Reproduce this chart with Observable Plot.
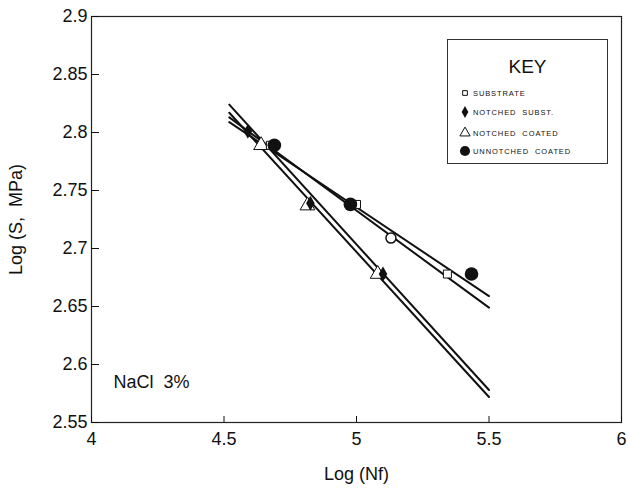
<!DOCTYPE html>
<html>
<head>
<meta charset="utf-8">
<script src="https://cdn.jsdelivr.net/npm/d3@7"></script>
<script src="https://cdn.jsdelivr.net/npm/@observablehq/plot@0.6"></script>
<style>
  html, body { margin: 0; padding: 0; background: #fff; }
  #wrap { position: relative; width: 629px; height: 489px; }
  svg text { white-space: pre; }
  #key { position: absolute; left: 447px; top: 39px; width: 159px; height: 123px;
         border: 1px solid #333; background: #fff; font-family: "Liberation Sans", Arial, sans-serif; color: #111; }
  #key .title { position: absolute; left: 0; width: 100%; top: 17px; text-align: center; font-size: 19px; line-height: 20px; }
  #key .row { position: absolute; left: 10px; height: 14px; display: flex; align-items: center; }
  #key .row svg { width: 14px; height: 14px; overflow: visible; }
  #key .row span { font-size: 7.5px; letter-spacing: 0.9px; white-space: pre; margin-left: 1px; }
</style>
</head>
<body>
<div id="wrap"></div>
<script>
// ---- data ----
const xTicks = [4, 4.5, 5, 5.5, 6];
const yTicks = [2.55, 2.6, 2.65, 2.7, 2.75, 2.8, 2.85, 2.9];

const substrateX = [4.675, 5.0, 5.343];
const substrateY = [2.789, 2.738, 2.678];
const notchedSubstX = [4.59, 4.826, 5.10];
const notchedSubstY = [2.801, 2.739, 2.678];
const notchedCoatedX = [4.64, 4.815, 5.08];
const notchedCoatedY = [2.789, 2.737, 2.678];
const unnotchedCoatedX = [4.69, 4.977, 5.434];
const unnotchedCoatedY = [2.789, 2.738, 2.678];
const openCircleX = [5.13];
const openCircleY = [2.709];

const fitX = [4.52, 5.5];
const fitA = [2.824, 2.578];
const fitB = [2.817, 2.572];
const fitC = [2.813, 2.649];
const fitD = [2.809, 2.659];

const keyLabels = ["SUBSTRATE", "NOTCHED  SUBST.", "NOTCHED  COATED", "UNNOTCHED  COATED"];

// ---- build ----
const pts = (xs, ys) => xs.map((x, i) => ({x, y: ys[i]}));
const fits = [fitA, fitB, fitC, fitD];

const plot = Plot.plot({
  width: 629,
  height: 489,
  marginLeft: 91,
  marginRight: 8,
  marginTop: 16,
  marginBottom: 67,
  style: {fontFamily: "'Liberation Sans', Arial, sans-serif", fontSize: "18px", color: "#111", background: "#fff"},
  x: {domain: [4, 6]},
  y: {domain: [2.55, 2.9]},
  marks: [
    Plot.frame({stroke: "#222", strokeWidth: 1.2}),
    Plot.axisX({ticks: xTicks, tickFormat: d => `${d}`, tickSize: -6, tickPadding: 16,
                label: "Log (Nf)", labelAnchor: "center", labelArrow: "none", labelOffset: 57, fontSize: 18}),
    Plot.axisY({ticks: yTicks, tickFormat: d => `${+d.toFixed(2)}`, tickSize: -8, tickPadding: 12,
                label: "Log (S,  MPa)", labelAnchor: "center", labelArrow: "none", labelOffset: 82, fontSize: 18}),
    ...fits.map(f => Plot.line(pts(fitX, f), {x: "x", y: "y", stroke: "#111", strokeWidth: 2})),
    Plot.dot(pts(notchedCoatedX, notchedCoatedY), {x: "x", y: "y", symbol: "triangle", r: 5.5, fill: "#fff", stroke: "#111", strokeWidth: 1}),
    Plot.dot(pts(notchedSubstX, notchedSubstY), {x: "x", y: "y", symbol: "diamond", r: 4.5, fill: "#111", stroke: "none"}),
    Plot.dot(pts(substrateX, substrateY), {x: "x", y: "y", symbol: "square", r: 4.5, fill: "#fff", stroke: "#111", strokeWidth: 1}),
    Plot.dot(pts(openCircleX, openCircleY), {x: "x", y: "y", symbol: "circle", r: 5, fill: "#fff", stroke: "#111", strokeWidth: 1.5}),
    Plot.dot(pts(unnotchedCoatedX, unnotchedCoatedY), {x: "x", y: "y", symbol: "circle", r: 6.8, fill: "#111", stroke: "none"}),
    Plot.text(["NaCl  3%"], {frameAnchor: "bottom-left", dx: 22, dy: -35, textAnchor: "start", fontSize: 18, fill: "#111"})
  ]
});
const wrap = document.getElementById("wrap");
wrap.appendChild(plot);

// ---- key (HTML overlay) ----
const sym = [
  {s: d3.symbolSquare, size: 22, fill: "#fff", stroke: "#111"},
  {s: d3.symbolDiamond, size: 40, fill: "#111", stroke: "none"},
  {s: d3.symbolTriangle, size: 45, fill: "#fff", stroke: "#111"},
  {s: d3.symbolCircle, size: 80, fill: "#111", stroke: "none"}
];
const rowTops = [46, 65, 86, 104];
let html = `<div class="title">KEY</div>`;
keyLabels.forEach((lab, i) => {
  const p = d3.symbol(sym[i].s, sym[i].size)();
  html += `<div class="row" style="top:${rowTops[i]}px"><svg viewBox="-7 -7 14 14"><path d="${p}" fill="${sym[i].fill}" stroke="${sym[i].stroke}" stroke-width="1"/></svg><span>${lab}</span></div>`;
});
const key = document.createElement("div");
key.id = "key";
key.innerHTML = html;
wrap.appendChild(key);
</script>
</body>
</html>
